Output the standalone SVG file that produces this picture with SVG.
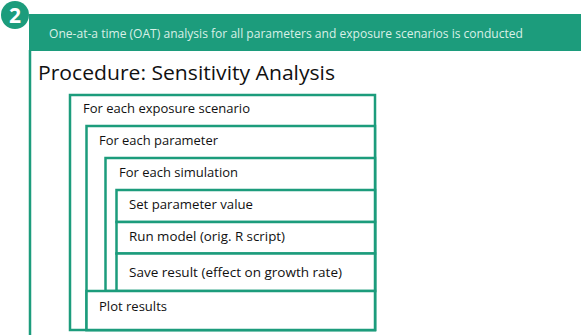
<svg xmlns="http://www.w3.org/2000/svg" width="581" height="335" viewBox="0 0 581 335">
  <style>
    .row { fill: #ffffff; stroke: #1c9c7c; stroke-width: 2.5; }
    .label { font-family: "Open Sans", "Noto Sans", sans-serif; font-size: 12.8px; fill: #111111; }
    .banner-text { font-family: "Open Sans", "Noto Sans", sans-serif; font-size: 12px; fill: #d9f0e7; }
    .title { font-family: "Open Sans", "Noto Sans", sans-serif; font-size: 20px; fill: #111111; }
  </style>

  <!-- step header -->
  <g id="header">
    <rect x="29" y="14" width="552" height="37" fill="#1c9c7c"/>
    <line x1="30" y1="50" x2="30" y2="335" stroke="#1c9c7c" stroke-width="2.5"/>
    <circle cx="15" cy="15" r="14" fill="#1c9c7c"/>
    <text x="15" y="22.5" text-anchor="middle" font-family="Open Sans, sans-serif" font-weight="bold" font-size="21" fill="#ffffff">2</text>
    <text class="banner-text" x="49" y="38" textLength="474" lengthAdjust="spacingAndGlyphs">One-at-a time (OAT) analysis for all parameters and exposure scenarios is conducted</text>
  </g>

  <text class="title" x="38" y="80" textLength="297" lengthAdjust="spacingAndGlyphs">Procedure: Sensitivity Analysis</text>

  <!-- nested loop boxes -->
  <g id="loop-scenario">
    <rect class="row" x="70" y="95" width="305" height="235"/>
    <text class="label" x="83" y="113" textLength="167" lengthAdjust="spacingAndGlyphs">For each exposure scenario</text>
  </g>
  <g id="loop-parameter">
    <rect class="row" x="86.5" y="126" width="288.5" height="204"/>
    <text class="label" x="99" y="145" textLength="119" lengthAdjust="spacingAndGlyphs">For each parameter</text>
  </g>
  <g id="loop-simulation">
    <rect class="row" x="105.5" y="158" width="269.5" height="133"/>
    <text class="label" x="119" y="177" textLength="119" lengthAdjust="spacingAndGlyphs">For each simulation</text>
  </g>
  <g id="step-set">
    <rect class="row" x="116.5" y="190" width="258.5" height="32"/>
    <text class="label" x="129" y="209" textLength="124" lengthAdjust="spacingAndGlyphs">Set parameter value</text>
  </g>
  <g id="step-run">
    <rect class="row" x="116.5" y="222" width="258.5" height="31.5"/>
    <text class="label" x="129" y="241" textLength="156" lengthAdjust="spacingAndGlyphs">Run model (orig. R script)</text>
  </g>
  <g id="step-save">
    <rect class="row" x="116.5" y="253.5" width="258.5" height="37.5"/>
    <text class="label" x="129" y="277" textLength="213" lengthAdjust="spacingAndGlyphs">Save result (effect on growth rate)</text>
  </g>
  <g id="step-plot">
    <rect class="row" x="86.5" y="291" width="288.5" height="39"/>
    <text class="label" x="99" y="311" textLength="68" lengthAdjust="spacingAndGlyphs">Plot results</text>
  </g>
</svg>
